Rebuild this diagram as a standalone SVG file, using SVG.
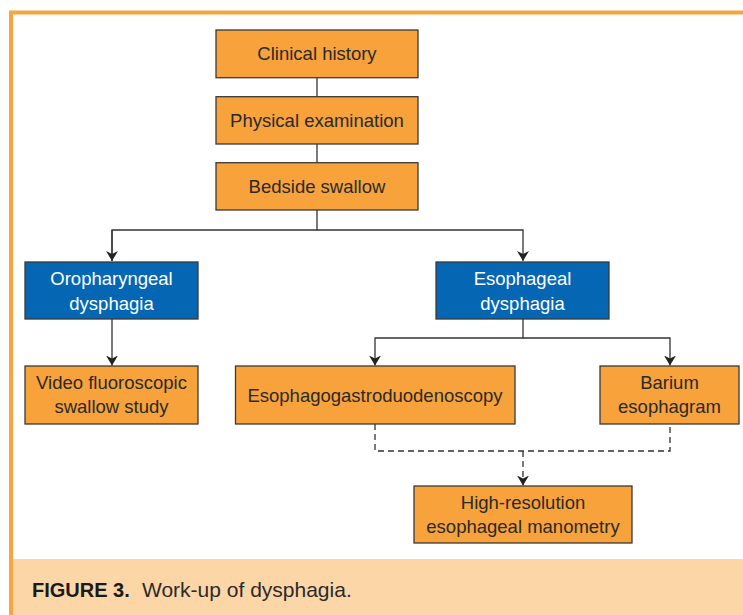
<svg xmlns="http://www.w3.org/2000/svg" width="743" height="615" viewBox="0 0 743 615">
<defs>
<style>
.box{fill:#F7A23B;stroke:#3a3a3a;stroke-width:1.3}
.blue{fill:#0567B3;stroke:#3a3a3a;stroke-width:1.3}
.t{font-family:"Liberation Sans",Arial,sans-serif;font-size:18.5px;fill:#2a2a2a;text-anchor:middle}
.tw{font-family:"Liberation Sans",Arial,sans-serif;font-size:18.5px;fill:#ffffff;text-anchor:middle}
.ln{fill:none;stroke:#333;stroke-width:1.3}
.dash{fill:none;stroke:#333;stroke-width:1.3;stroke-dasharray:6 4}
</style>
<marker id="ah" viewBox="0 0 10 12" refX="10" refY="6" markerWidth="10" markerHeight="12" markerUnits="userSpaceOnUse" orient="auto">
<path d="M0,0 L10,6 L0,12 L3,6 Z" fill="#222"/>
</marker>
</defs>
<rect x="0" y="0" width="743" height="615" fill="#ffffff"/>
<rect x="11" y="559" width="732" height="56" fill="#FDD6A8"/>
<path d="M11,615 V12.5 H743" fill="none" stroke="#F7A540" stroke-width="4"/>

<g id="connectors">
<line class="ln" x1="317" y1="77.7" x2="317" y2="96.7"/>
<line class="ln" x1="317" y1="144" x2="317" y2="162.7"/>
<path class="ln" d="M317,210 V230 H112 V261"/>
<path class="ln" d="M317,230 H523 V261" marker-end="url(#ah)"/>
<path class="ln" d="M112,230 V261" marker-end="url(#ah)"/>
<path class="ln" d="M112,319 V365.5" marker-end="url(#ah)"/>
<path class="ln" d="M523,319 V338 H375 V365.5" marker-end="url(#ah)"/>
<path class="ln" d="M523,338 H670 V365.5" marker-end="url(#ah)"/>
<path class="dash" d="M375,424 V451 H670 V424"/>
<path class="dash" d="M523,451 V485.5" marker-end="url(#ah)"/>
</g>

<g id="clinical-history">
<rect class="box" x="216" y="30" width="202" height="47.7"/>
<text class="t" x="317" y="60">Clinical history</text>
</g>
<g id="physical-examination">
<rect class="box" x="216" y="96.7" width="202" height="47.3"/>
<text class="t" x="317" y="127">Physical examination</text>
</g>
<g id="bedside-swallow">
<rect class="box" x="216" y="162.7" width="202" height="47.3"/>
<text class="t" x="317" y="193">Bedside swallow</text>
</g>
<g id="oropharyngeal-dysphagia">
<rect class="blue" x="25" y="262" width="173" height="57"/>
<text class="tw" x="111.5" y="285">Oropharyngeal</text>
<text class="tw" x="111.5" y="309.5">dysphagia</text>
</g>
<g id="esophageal-dysphagia">
<rect class="blue" x="436" y="262" width="173" height="57"/>
<text class="tw" x="522.5" y="285">Esophageal</text>
<text class="tw" x="522.5" y="309.5">dysphagia</text>
</g>
<g id="video-fluoroscopic">
<rect class="box" x="25" y="366" width="173" height="58"/>
<text class="t" x="111.5" y="388.5">Video fluoroscopic</text>
<text class="t" x="111.5" y="413">swallow study</text>
</g>
<g id="egd">
<rect class="box" x="235.5" y="366" width="279.5" height="58"/>
<text class="t" x="375" y="401.5">Esophagogastroduodenoscopy</text>
</g>
<g id="barium-esophagram">
<rect class="box" x="600" y="366" width="139" height="58"/>
<text class="t" x="669.5" y="388.5">Barium</text>
<text class="t" x="669.5" y="413">esophagram</text>
</g>
<g id="hrm">
<rect class="box" x="414" y="486" width="218" height="57"/>
<text class="t" x="523" y="508.5">High-resolution</text>
<text class="t" x="523" y="533">esophageal manometry</text>
</g>

<text x="32" y="597" font-family="'Liberation Sans',Arial,sans-serif" font-size="20" font-weight="bold" fill="#1a1a1a">FIGURE 3.</text>
<text x="142" y="597" font-family="'Liberation Sans',Arial,sans-serif" font-size="21" fill="#2a2a2a">Work-up of dysphagia.</text>
</svg>
